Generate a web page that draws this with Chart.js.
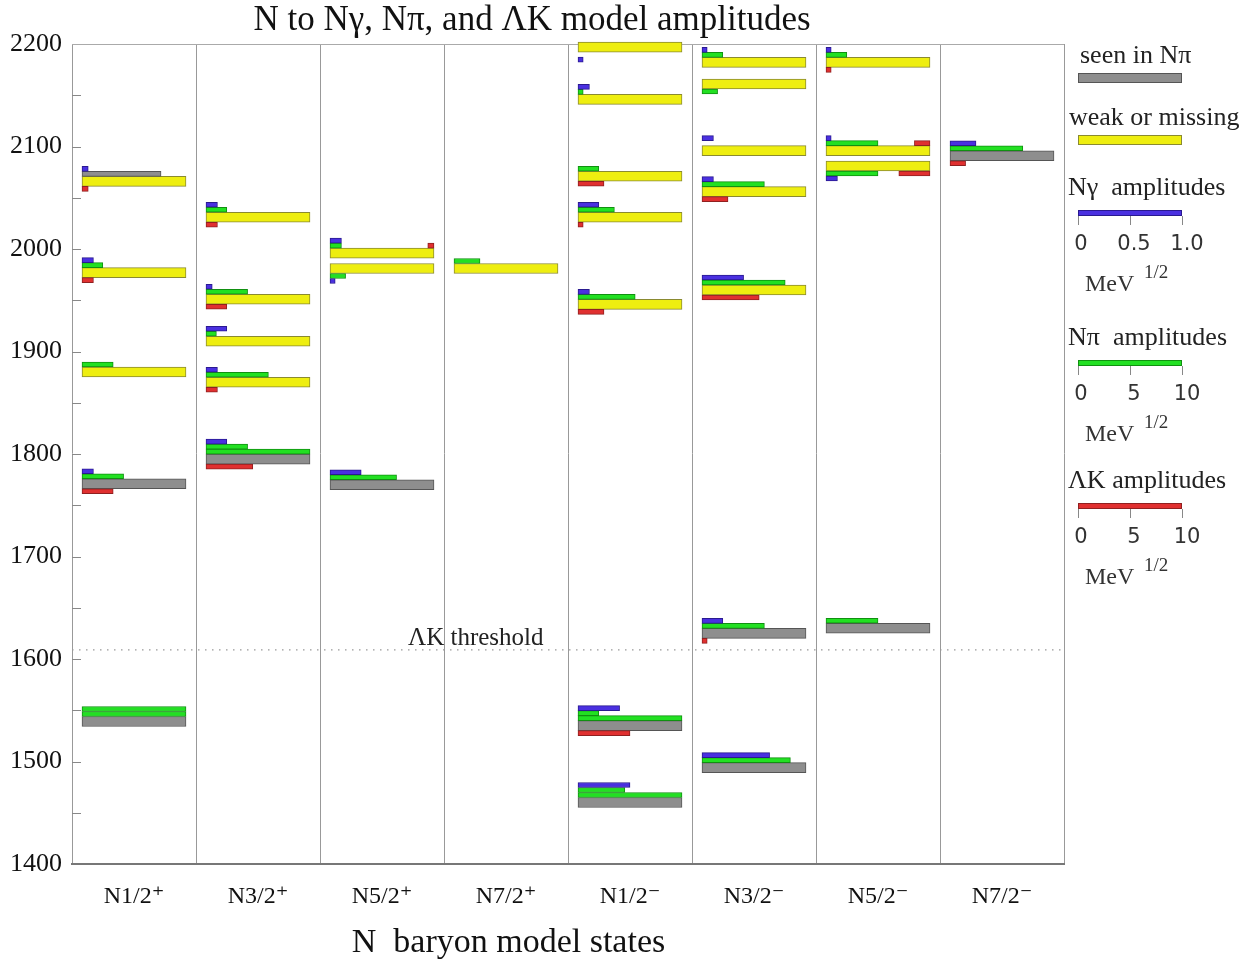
<!DOCTYPE html>
<html>
<head>
<meta charset="utf-8">
<script src="https://cdn.jsdelivr.net/npm/chart.js@4.4.0/dist/chart.umd.min.js"></script>
<style>
  html, body { margin: 0; padding: 0; background: #fff; }
</style>
</head>
<body>
<canvas id="chart" width="1239" height="963"></canvas>
<script>
// columns of the plot (J^P of the model states)
const columns = ['N1/2⁺', 'N3/2⁺', 'N5/2⁺', 'N7/2⁺', 'N1/2⁻', 'N3/2⁻', 'N5/2⁻', 'N7/2⁻'];

// model states: column, mass (MeV), seen in Nπ (1) or weak/missing (0)
const stateColumn = [0,0,0,0,0, 1,1,1,1,1, 2,2,2, 3, 4,4,4,4,4,4,4, 5,5,5,5,5,5,5, 6,6,6,6, 7];
const stateMass = [2066, 1977, 1880, 1771, 1539,
                   2031, 1951, 1910, 1870, 1795,
                   1996, 1981, 1770,
                   1981,
                   2197, 2146, 2071, 2031, 1946, 1535, 1460,
                   2182, 2161, 2096, 2056, 1960, 1625, 1494,
                   2182, 2096, 2081, 1630,
                   2091];
const stateSeen = [0,0,0,1,1, 0,0,0,0,1, 0,0,1, 0, 0,0,0,0,0,1,1, 0,0,0,0,0,1,1, 0,0,0,1, 1];

// amplitudes: [state, row, value in MeV^1/2]
// row > 0 sits above the state bar, row < 0 below; a negative value is drawn from the right end
const gammaAmps = [
  [0, 2, 0.06], [1, 2, 0.11], [3, 2, 0.11],
  [5, 2, 0.11], [6, 2, 0.06], [7, 2, 0.2], [8, 2, 0.11], [9, 3, 0.2],
  [10, 2, 0.11], [11, -2, 0.05], [12, 2, 0.3],
  [14, -2, 0.05], [15, 2, 0.11], [17, 2, 0.2], [18, 2, 0.11], [19, 3, 0.4], [20, 3, 0.5],
  [21, 2, 0.05], [23, 2, 0.11], [24, 2, 0.11], [25, 2, 0.4], [26, 2, 0.2], [27, 2, 0.65],
  [28, 2, 0.05], [29, 2, 0.05], [30, -2, 0.11],
  [32, 2, 0.25]
];
const pionAmps = [
  [1, 1, 2.0], [2, 1, 3.0], [3, 1, 4.0], [4, 1, 10], [4, 2, 10],
  [5, 1, 2.0], [6, 1, 4.0], [7, 1, 1.0], [8, 1, 6.0], [9, 1, 10], [9, 2, 4.0],
  [10, 1, 1.1], [11, -1, 1.5], [12, 1, 6.4],
  [13, 1, 2.5],
  [15, 1, 0.5], [16, 1, 2.0], [17, 1, 3.5], [18, 1, 5.5], [19, 1, 10], [19, 2, 2.0], [20, 1, 10], [20, 2, 4.5],
  [21, 1, 2.0], [22, -1, 1.5], [24, 1, 6.0], [25, 1, 8.0], [26, 1, 6.0], [27, 1, 8.5],
  [28, 1, 2.0], [29, 1, 5.0], [30, -1, 5.0], [31, 1, 5.0],
  [32, 1, 7.0]
];
const kaonAmps = [
  [0, -1, 0.6], [1, -1, 1.1], [3, -1, 3.0],
  [5, -1, 1.1], [6, -1, 2.0], [8, -1, 1.1], [9, -1, 4.5],
  [10, 1, -0.6],
  [16, -1, 2.5], [17, -1, 0.5], [18, -1, 2.5], [19, -1, 5.0],
  [24, -1, 2.5], [25, -1, 5.5], [26, -1, 0.5],
  [28, -1, 0.5], [29, 1, -1.5], [30, -1, -3.0],
  [32, -1, 1.5]
];
const seenAmps = [[0, 1, 7.6]];

const gammaFull = 1.0;
const pionFull = 10;
const kaonFull = 10;
const kThreshold = 1609;

// bar geometry in column units / MeV
const START = 10 / 124;
const FULL = 104 / 124;
const ROW = 5 * 800 / 820;

function rowCentre(s, row) {
  const m = stateMass[s];
  return row > 0 ? m + ROW * (row + 0.5) : m - ROW * (-row + 0.5);
}

function ampBar(a, full) {
  const [s, row, v] = a;
  const x0 = stateColumn[s] + START;
  const f = Math.min(Math.abs(v) / full, 1) * FULL;
  return { y: rowCentre(s, row), x: v >= 0 ? [x0, x0 + f] : [x0 + FULL - f, x0 + FULL] };
}

function stateBars(seen) {
  const out = [];
  stateMass.forEach((m, i) => {
    if (stateSeen[i] === seen) {
      const x0 = stateColumn[i] + START;
      out.push({ y: m, x: [x0, x0 + FULL] });
    }
  });
  return out;
}

function barSet(label, data, bg, border, thick) {
  return {
    type: 'bar', label: label, data: data, indexAxis: 'y',
    backgroundColor: bg, borderColor: border, borderWidth: 1, borderSkipped: false,
    barThickness: thick, grouped: false, clip: false
  };
}

const SERIF = '"Liberation Serif", "DejaVu Serif", serif';

function drawScale(ctx, x0, len, top, title, colour, edge, nums) {
  ctx.fillStyle = '#222';
  ctx.font = '26px ' + SERIF;
  ctx.textAlign = 'left';
  ctx.textBaseline = 'middle';
  ctx.fillText(title, x0 - 10, top);
  const by = top + 22;
  ctx.fillStyle = colour;
  ctx.fillRect(x0, by, len, 6);
  ctx.strokeStyle = edge;
  ctx.lineWidth = 1;
  ctx.strokeRect(x0 + 0.5, by + 0.5, len - 1, 5);
  ctx.strokeStyle = '#888';
  [0, 0.5, 1].forEach(f => {
    const px = Math.round(x0 + f * len) + 0.5;
    ctx.beginPath();
    ctx.moveTo(px, by + 6);
    ctx.lineTo(px, by + 15);
    ctx.stroke();
  });
  ctx.fillStyle = '#333';
  ctx.font = '21px "DejaVu Sans", sans-serif';
  ctx.textAlign = 'center';
  nums.forEach((t, i) => ctx.fillText(t, x0 + 3 + i * (len / 2 + 1), top + 57));
  ctx.textAlign = 'left';
  ctx.font = '24px ' + SERIF;
  ctx.fillText('MeV', x0 + 7, top + 97);
  ctx.font = '19px ' + SERIF;
  ctx.fillText('1/2', x0 + 66, top + 85);
}

const extras = {
  id: 'extras',
  beforeDatasetsDraw(chart) {
    const { ctx, chartArea: a, scales: { x, y } } = chart;
    ctx.save();
    ctx.strokeStyle = '#aaa';
    ctx.lineWidth = 1;
    ctx.beginPath();
    ctx.moveTo(a.left, a.top + 0.5);
    ctx.lineTo(a.right, a.top + 0.5);
    ctx.stroke();
    // small ticks inside the left edge
    ctx.strokeStyle = '#888';
    ctx.beginPath();
    for (let m = 1450; m < 2200; m += 50) {
      const py = Math.round(y.getPixelForValue(m)) + 0.5;
      ctx.moveTo(a.left, py);
      ctx.lineTo(a.left + 9, py);
    }
    ctx.stroke();
    ctx.fillStyle = '#222';
    ctx.font = '25px ' + SERIF;
    ctx.textAlign = 'left';
    ctx.textBaseline = 'alphabetic';
    ctx.fillText('ΛK threshold', x.getPixelForValue(2.71), y.getPixelForValue(kThreshold) - 5);
    ctx.restore();
  },
  afterDraw(chart) {
    const { ctx, chartArea: a, scales: { x } } = chart;
    const len = x.getPixelForValue(FULL) - x.getPixelForValue(0);
    const x0 = a.right + 14;
    ctx.save();
    // axis title
    ctx.fillStyle = '#111';
    ctx.font = '34px ' + SERIF;
    ctx.textAlign = 'center';
    ctx.textBaseline = 'middle';
    ctx.fillText('N  baryon model states', x.getPixelForValue(3.52), 943);
    // legend
    ctx.fillStyle = '#222';
    ctx.font = '26px ' + SERIF;
    ctx.textAlign = 'left';
    ctx.fillText('seen in Nπ', x0 + 2, 56);
    ctx.fillStyle = '#8e8e8e';
    ctx.fillRect(x0, 73, len, 10);
    ctx.strokeStyle = '#555';
    ctx.strokeRect(x0 + 0.5, 73.5, len - 1, 9);
    ctx.fillStyle = '#222';
    ctx.fillText('weak or missing', x0 - 9, 118);
    ctx.fillStyle = '#eeee10';
    ctx.fillRect(x0, 135, len, 10);
    ctx.strokeStyle = '#8a8a30';
    ctx.strokeRect(x0 + 0.5, 135.5, len - 1, 9);
    drawScale(ctx, x0, len, 188, 'Nγ  amplitudes', '#4a30e0', '#2a1a90', ['0', '0.5', '1.0']);
    drawScale(ctx, x0, len, 338, 'Nπ  amplitudes', '#22e022', '#119011', ['0', '5', '10']);
    drawScale(ctx, x0, len, 481, 'ΛK amplitudes', '#e03030', '#902020', ['0', '5', '10']);
    ctx.restore();
  }
};

new Chart(document.getElementById('chart'), {
  type: 'bar',
  data: {
    datasets: [
      barSet('Nγ', gammaAmps.map(a => ampBar(a, gammaFull)), '#4a30e0', '#2a1a90', 5),
      barSet('Nπ', pionAmps.map(a => ampBar(a, pionFull)), '#22e022', '#119011', 5),
      barSet('ΛK', kaonAmps.map(a => ampBar(a, kaonFull)), '#e03030', '#902020', 5),
      barSet('seen amp', seenAmps.map(a => ampBar(a, pionFull)), '#8e8e8e', '#555', 5),
      barSet('seen in Nπ', stateBars(1), '#8e8e8e', '#555', 10),
      barSet('weak or missing', stateBars(0), '#eeee10', '#8a8a30', 10),
      {
        type: 'line', label: 'ΛK threshold',
        data: [{ x: 0, y: kThreshold }, { x: columns.length, y: kThreshold }],
        borderColor: '#999', borderWidth: 1.3, borderDash: [1.5, 5.5],
        pointRadius: 0, fill: false
      }
    ]
  },
  options: {
    responsive: false,
    animation: false,
    indexAxis: 'y',
    layout: { padding: { left: 0, right: 175, top: 0, bottom: 0 } },
    plugins: {
      legend: { display: false },
      tooltip: { enabled: false },
      title: {
        display: true,
        text: 'N to Nγ, Nπ, and ΛK model amplitudes',
        color: '#111',
        font: { family: SERIF, size: 35, weight: 'normal' },
        padding: { top: 0, bottom: 2 }
      }
    },
    scales: {
      x: {
        type: 'linear', min: 0, max: columns.length, offset: false,
        afterBuildTicks: s => { s.ticks = columns.map((c, i) => ({ value: i + 0.5 })); },
        afterFit: s => { s.height = 99; },
        ticks: {
          callback: v => columns[Math.floor(v)],
          color: '#111', padding: 18,
          font: { family: SERIF, size: 24 }
        },
        grid: { offset: true, color: '#999', lineWidth: 1, drawTicks: false },
        border: { color: '#777', width: 2 }
      },
      y: {
        type: 'linear', min: 1400, max: 2200, offset: false,
        afterFit: s => { s.width = 72; },
        ticks: {
          stepSize: 100, color: '#111', padding: 2,
          callback: v => String(v),
          font: { family: SERIF, size: 26 }
        },
        grid: { display: false, offset: false },
        border: { display: false }
      }
    }
  },
  plugins: [extras]
});
</script>
</body>
</html>
